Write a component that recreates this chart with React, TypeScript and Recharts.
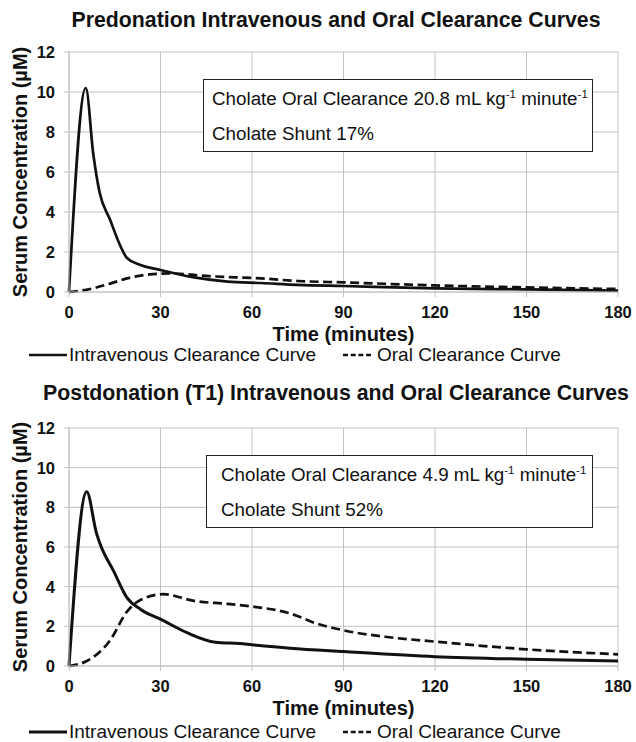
import React from 'react';
import { LineChart, Line, XAxis, YAxis, CartesianGrid } from 'recharts';

const xTicks = [0, 30, 60, 90, 120, 150, 180];
const yTicks = [0, 2, 4, 6, 8, 10, 12];

const preIvTimes = [0, 5.5, 8, 10, 13.5, 17, 19, 23, 30, 41, 52, 63, 75, 90, 120, 150, 180];
const preIvValues = [0, 10.2, 6.85, 5.0, 3.6, 2.25, 1.7, 1.38, 1.1, 0.73, 0.52, 0.45, 0.36, 0.3, 0.18, 0.13, 0.07];
const preOralTimes = [0, 6, 13.5, 19, 26.5, 33, 46, 63, 75, 90, 120, 150, 180];
const preOralValues = [0, 0.12, 0.42, 0.68, 0.88, 0.93, 0.79, 0.68, 0.55, 0.48, 0.33, 0.23, 0.15];

const postIvTimes = [0, 5.8, 9, 10.2, 14.6, 19, 23.4, 30, 38.7, 48, 56, 60, 72.5, 90, 120, 150, 180];
const postIvValues = [0, 8.78, 6.7, 6.15, 4.8, 3.45, 2.86, 2.36, 1.68, 1.2, 1.13, 1.07, 0.9, 0.73, 0.47, 0.34, 0.25];
const postOralTimes = [0, 5.8, 13.5, 19, 23.4, 31, 41, 52, 60, 72.5, 81, 90, 105, 120, 150, 180];
const postOralValues = [0, 0.25, 1.3, 2.74, 3.33, 3.62, 3.28, 3.13, 3.0, 2.65, 2.15, 1.8, 1.45, 1.23, 0.84, 0.59];

const titles = [
  'Predonation Intravenous and Oral Clearance Curves',
  'Postdonation (T1) Intravenous and Oral Clearance Curves',
];
const clearances = ['20.8', '4.9'];
const shunts = ['17%', '52%'];
const legendLabels = ['Intravenous Clearance Curve', 'Oral Clearance Curve'];

const FONT = '"Liberation Sans", Arial, Helvetica, sans-serif';
const INK = '#111';
const GRID = '#c2c2c2';

const rows = (ts: number[], vs: number[]) => ts.map((t, i) => ({ t, v: vs[i] }));

const YLabel = (props: any) => {
  const vb = props.viewBox || {};
  const cx = 20;
  const cy = vb.y + vb.height / 2;
  return (
    <text
      x={cx}
      y={cy}
      transform={`rotate(-90 ${cx} ${cy})`}
      textAnchor="middle"
      dominantBaseline="central"
      fontFamily={FONT}
      fontWeight="bold"
      fontSize={20}
      fill={INK}
    >
      Serum Concentration (µM)
    </text>
  );
};

const XLabel = (props: any) => {
  const vb = props.viewBox || {};
  const cx = vb.x + vb.width / 2;
  const cy = vb.y + 42;
  return (
    <text
      x={cx}
      y={cy}
      textAnchor="middle"
      dominantBaseline="central"
      fontFamily={FONT}
      fontWeight="bold"
      fontSize={20}
      fill={INK}
    >
      Time (minutes)
    </text>
  );
};

type PanelProps = {
  top: number;
  title: string;
  ivRows: { t: number; v: number }[];
  oralRows: { t: number; v: number }[];
  marginTop: number;
  marginBottom: number;
  titleY: number;
  box: { left: number; top: number; width: number; height: number; pad: number };
  clearance: string;
  shunt: string;
  legendY: number;
  ivWidth: number;
};

const Panel = (p: PanelProps) => {
  const sup = { fontSize: 11.5, verticalAlign: 'super', lineHeight: 0 } as React.CSSProperties;
  return (
    <div style={{ position: 'absolute', left: 0, top: p.top, width: 636, height: 371 }}>
      <LineChart
        width={636}
        height={371}
        margin={{ top: p.marginTop, right: 18, bottom: p.marginBottom, left: 0 }}
      >
        <CartesianGrid stroke={GRID} strokeWidth={1} />
        <XAxis
          type="number"
          dataKey="t"
          domain={[0, 180]}
          ticks={xTicks}
          height={50}
          tickSize={5}
          tickMargin={9}
          stroke={GRID}
          tick={{ fontFamily: FONT, fontWeight: 'bold', fontSize: 16.5, fill: INK }}
          label={<XLabel />}
        />
        <YAxis
          type="number"
          domain={[0, 12]}
          ticks={yTicks}
          width={69}
          tickSize={5}
          tickMargin={9}
          stroke={GRID}
          tick={{ fontFamily: FONT, fontWeight: 'bold', fontSize: 16.5, fill: INK }}
          label={<YLabel />}
        />
        <Line
          data={p.oralRows}
          dataKey="v"
          type="monotone"
          stroke={INK}
          strokeWidth={2.7}
          strokeDasharray="9 4.5"
          dot={false}
          isAnimationActive={false}
        />
        <Line
          data={p.ivRows}
          dataKey="v"
          type="monotone"
          stroke={INK}
          strokeWidth={p.ivWidth}
          dot={false}
          isAnimationActive={false}
        />
      </LineChart>
      <div
        style={{
          position: 'absolute',
          left: 0,
          width: 672,
          top: p.titleY - 12,
          height: 24,
          lineHeight: '24px',
          textAlign: 'center',
          fontFamily: FONT,
          fontWeight: 'bold',
          fontSize: 21.3,
          color: INK,
          whiteSpace: 'nowrap',
        }}
      >
        {p.title}
      </div>
      <div
        style={{
          position: 'absolute',
          left: p.box.left,
          top: p.box.top,
          width: p.box.width,
          height: p.box.height,
          boxSizing: 'border-box',
          border: '1.5px solid #222',
          background: '#fff',
          fontFamily: FONT,
          fontSize: 18.8,
          color: INK,
          paddingLeft: p.box.pad,
          whiteSpace: 'nowrap',
        }}
      >
        <div style={{ height: 35, lineHeight: '35px', marginTop: 1 }}>
          Cholate Oral Clearance {p.clearance} mL kg<span style={sup}>-1</span> minute<span style={sup}>-1</span>
        </div>
        <div style={{ height: 35, lineHeight: '35px' }}>Cholate Shunt {p.shunt}</div>
      </div>
      <div
        style={{
          position: 'absolute',
          left: 0,
          top: p.legendY - 12,
          width: 636,
          height: 24,
          fontFamily: FONT,
          fontSize: 19,
          color: INK,
          whiteSpace: 'nowrap',
        }}
      >
        <svg width={636} height={24} style={{ position: 'absolute', left: 0, top: 0 }}>
          <line x1={29} x2={67} y1={12} y2={12} stroke={INK} strokeWidth={p.ivWidth} />
          <line x1={343} x2={371} y1={12} y2={12} stroke={INK} strokeWidth={2.7} strokeDasharray="5 2.7" />
        </svg>
        <span style={{ position: 'absolute', left: 69, top: 0, lineHeight: '24px' }}>{legendLabels[0]}</span>
        <span style={{ position: 'absolute', left: 377, top: 0, lineHeight: '24px' }}>{legendLabels[1]}</span>
      </div>
    </div>
  );
};

export default function App() {
  return (
    <div style={{ position: 'absolute', left: 0, top: 0, width: 636, height: 742, background: '#fff', overflow: 'hidden' }}>
      <Panel
        top={0}
        title={titles[0]}
        ivRows={rows(preIvTimes, preIvValues)}
        oralRows={rows(preOralTimes, preOralValues)}
        marginTop={52}
        marginBottom={29}
        titleY={20}
        box={{ left: 203, top: 79, width: 390, height: 73, pad: 8 }}
        clearance={clearances[0]}
        shunt={shunts[0]}
        legendY={355}
        ivWidth={2.7}
      />
      <Panel
        top={371}
        title={titles[1]}
        ivRows={rows(postIvTimes, postIvValues)}
        oralRows={rows(postOralTimes, postOralValues)}
        marginTop={57}
        marginBottom={26}
        titleY={22}
        box={{ left: 206, top: 84, width: 387, height: 73, pad: 14 }}
        clearance={clearances[1]}
        shunt={shunts[1]}
        legendY={361}
        ivWidth={3}
      />
    </div>
  );
}
